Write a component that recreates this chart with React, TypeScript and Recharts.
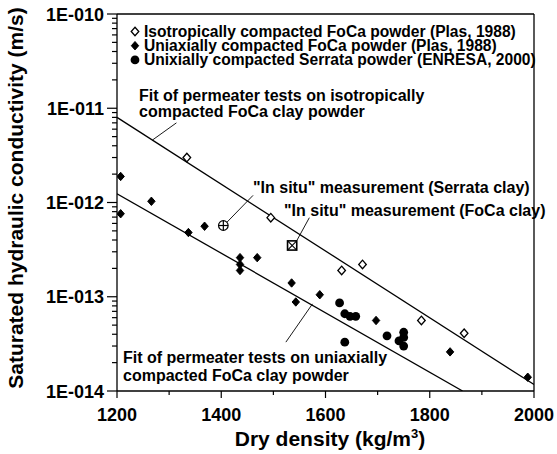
import { ComposedChart, XAxis, YAxis, Scatter, Line, ReferenceLine, Customized } from 'recharts'

// dry density (kg/m3) vs hydraulic conductivity (m/s)
const isoFoCa = [
  { d: 1334, k: 3.0e-12 },
  { d: 1495, k: 6.9e-13 },
  { d: 1631, k: 1.9e-13 },
  { d: 1671, k: 2.2e-13 },
  { d: 1784, k: 5.6e-14 },
  { d: 1866, k: 4.1e-14 },
]

const uniFoCa = [
  { d: 1207, k: 1.89e-12 },
  { d: 1207, k: 7.6e-13 },
  { d: 1266, k: 1.03e-12 },
  { d: 1337, k: 4.8e-13 },
  { d: 1368, k: 5.6e-13 },
  { d: 1436, k: 2.6e-13 },
  { d: 1436, k: 2.2e-13 },
  { d: 1436, k: 1.9e-13 },
  { d: 1469, k: 2.6e-13 },
  { d: 1535, k: 1.4e-13 },
  { d: 1543, k: 8.8e-14 },
  { d: 1589, k: 1.05e-13 },
  { d: 1697, k: 5.6e-14 },
  { d: 1839, k: 2.6e-14 },
  { d: 1988, k: 1.4e-14 },
]

const serrata = [
  { d: 1627, k: 8.6e-14 },
  { d: 1637, k: 6.6e-14 },
  { d: 1647, k: 6.2e-14 },
  { d: 1658, k: 6.2e-14 },
  { d: 1637, k: 3.3e-14 },
  { d: 1718, k: 3.85e-14 },
  { d: 1750, k: 4.2e-14 },
  { d: 1750, k: 3.7e-14 },
  { d: 1741, k: 3.4e-14 },
  { d: 1750, k: 3.0e-14 },
]

const inSituSerrata = [{ d: 1404, k: 5.7e-13 }]
const inSituFoCa = [{ d: 1536, k: 3.5e-13 }]

const isoFit = [
  { d: 1200, k: 8.0e-12 },
  { d: 2000, k: 1.17e-14 },
]
const uniFit = [
  { d: 1200, k: 1.24e-12 },
  { d: 1863, k: 1.0e-14 },
]

// leader lines from the notes to what they point at
const leaders = [
  [{ x: 1314, y: 7.0e-12 }, { x: 1268, y: 4.6e-12 }],
  [{ x: 1461, y: 1.19e-12 }, { x: 1410, y: 6.1e-13 }],
  [{ x: 1569, y: 6.9e-13 }, { x: 1545, y: 3.95e-13 }],
  [{ x: 1524, y: 3.3e-14 }, { x: 1575, y: 8.4e-14 }],
]

const xTicks = [1200, 1300, 1400, 1500, 1600, 1700, 1800, 1900, 2000]
const xLabelTicks = [1200, 1400, 1600, 1800, 2000]
const yDecades = [1e-14, 1e-13, 1e-12, 1e-11, 1e-10]
const yMinorSteps = [2, 3, 4, 5, 6, 7, 8, 9]
const yTicks = yDecades.flatMap((v, i) =>
  i < yDecades.length - 1 ? [v, ...yMinorSteps.map(m => m * v)] : [v]
)

const legendItems = [
  { name: 'Isotropically compacted FoCa powder (Plas, 1988)', kind: 'open' },
  { name: 'Uniaxially compacted FoCa powder (Plas, 1988)', kind: 'filled' },
  { name: 'Unixially compacted Serrata powder (ENRESA, 2000)', kind: 'circle' },
]

const FONT = '"Liberation Sans", Arial, Helvetica, sans-serif'
const INK = '#000'

const fmtExp = (v: number) => {
  const e = Math.round(Math.log10(v))
  return '1E-' + String(-e).padStart(3, '0')
}

function XTick(props: any) {
  const { x, y, payload } = props
  const major = xLabelTicks.includes(payload.value)
  return (
    <g>
      <line x1={x} x2={x} y1={y} y2={y + (major ? 7 : 4)} stroke={INK} strokeWidth={1.2} />
      {major && (
        <text x={x} y={y + 30} textAnchor="middle" fontFamily={FONT} fontWeight="bold" fontSize={18} fill={INK}>
          {payload.value}
        </text>
      )}
    </g>
  )
}

function YTick(props: any) {
  const { x, y, payload } = props
  const e = Math.log10(payload.value)
  const major = Math.abs(e - Math.round(e)) < 1e-6
  return (
    <g>
      <line x1={x - (major ? 10 : 5)} x2={x} y1={y} y2={y} stroke={INK} strokeWidth={1.2} />
      {major && (
        <text x={x - 13} y={y + 6.5} textAnchor="end" fontFamily={FONT} fontWeight="bold" fontSize={18} fill={INK}>
          {fmtExp(payload.value)}
        </text>
      )}
    </g>
  )
}

function diamondPoints(cx: number, cy: number, w: number, h: number) {
  return `${cx},${cy - h} ${cx + w},${cy} ${cx},${cy + h} ${cx - w},${cy}`
}

const OpenDiamond = (p: any) => (
  <polygon points={diamondPoints(p.cx, p.cy, 3.8, 4.3)} fill="#fff" stroke={INK} strokeWidth={1.3} />
)
const FilledDiamond = (p: any) => (
  <polygon points={diamondPoints(p.cx, p.cy, 3.7, 4.2)} fill={INK} stroke={INK} strokeWidth={1} />
)
const Dot = (p: any) => <circle cx={p.cx} cy={p.cy} r={4.4} fill={INK} />
const CirclePlus = (p: any) => (
  <g stroke={INK} strokeWidth={1.2} fill="none">
    <circle cx={p.cx} cy={p.cy} r={4.8} fill="#fff" />
    <line x1={p.cx - 4.8} x2={p.cx + 4.8} y1={p.cy} y2={p.cy} />
    <line x1={p.cx} x2={p.cx} y1={p.cy - 4.8} y2={p.cy + 4.8} />
  </g>
)
const SquareCross = (p: any) => (
  <g stroke={INK} fill="none">
    <rect x={p.cx - 4.6} y={p.cy - 4.6} width={9.2} height={9.2} fill="#fff" strokeWidth={1.6} />
    <line x1={p.cx - 4.6} x2={p.cx + 4.6} y1={p.cy - 4.6} y2={p.cy + 4.6} strokeWidth={1.1} />
    <line x1={p.cx - 4.6} x2={p.cx + 4.6} y1={p.cy + 4.6} y2={p.cy - 4.6} strokeWidth={1.1} />
  </g>
)

function legendMarker(kind: string, cx: number, cy: number) {
  if (kind === 'open') return <OpenDiamond cx={cx} cy={cy} />
  if (kind === 'filled') return <FilledDiamond cx={cx} cy={cy} />
  return <Dot cx={cx} cy={cy} />
}

function Notes() {
  const txt = { fontFamily: FONT, fontWeight: 'bold' as const, fontSize: 16, fill: INK }
  return (
    <g>
      {legendItems.map((it, i) => (
        <g key={it.name}>
          {legendMarker(it.kind, 135, 31.5 + i * 14.2)}
          <text x={144} y={37 + i * 14.2} {...txt} fontSize={15.6}>{it.name}</text>
        </g>
      ))}
      <text x={139} y={100.5} {...txt}>Fit of permeater tests on isotropically</text>
      <text x={139} y={116.5} {...txt}>compacted FoCa clay powder</text>
      <text x={253} y={192.5} {...txt}>"In situ" measurement (Serrata clay)</text>
      <text x={284} y={215.5} {...txt}>"In situ" measurement (FoCa clay)</text>
      <text x={123} y={363} {...txt}>Fit of permeater tests on uniaxially</text>
      <text x={123} y={380.5} {...txt}>compacted FoCa clay powder</text>
      <text transform="translate(23,198) rotate(-90)" textAnchor="middle" {...txt} fontSize={21}>
        Saturated hydraulic conductivity (m/s)
      </text>
      <text x={330} y={446} textAnchor="middle" {...txt} fontSize={21}>
        <tspan>Dry density (kg/m</tspan>
        <tspan dy={-8} fontSize={13}>3</tspan>
        <tspan dy={8}>)</tspan>
      </text>
    </g>
  )
}

export default function App() {
  return (
    <div style={{ position: 'absolute', left: 0, top: 0, width: 557, height: 454, background: '#fff' }}>
      <ComposedChart width={557} height={454} margin={{ top: 14, right: 23, left: 0, bottom: 0 }}>
        <XAxis
          dataKey="d"
          type="number"
          domain={[1200, 2000]}
          ticks={xTicks}
          interval={0}
          height={63}
          tickSize={0}
          tickMargin={0}
          tickLine={false}
          tick={<XTick />}
          axisLine={{ stroke: INK, strokeWidth: 1.3 }}
          allowDataOverflow
        />
        <YAxis
          dataKey="k"
          type="number"
          scale="log"
          domain={[1e-14, 1e-10]}
          ticks={yTicks}
          interval={0}
          width={117}
          tickSize={0}
          tickMargin={0}
          tickLine={false}
          tick={<YTick />}
          axisLine={{ stroke: INK, strokeWidth: 1.3 }}
          allowDataOverflow
        />
        <ReferenceLine y={1e-10} stroke={INK} strokeWidth={1.3} />
        <ReferenceLine x={2000} stroke={INK} strokeWidth={1.3} />
        {leaders.map((seg, i) => (
          <ReferenceLine key={i} segment={seg} stroke={INK} strokeWidth={0.9} />
        ))}
        <Line data={isoFit} dataKey="k" stroke={INK} strokeWidth={1.3} dot={false} isAnimationActive={false} />
        <Line data={uniFit} dataKey="k" stroke={INK} strokeWidth={1.3} dot={false} isAnimationActive={false} />
        <Scatter data={isoFoCa} shape={OpenDiamond} isAnimationActive={false} />
        <Scatter data={uniFoCa} shape={FilledDiamond} isAnimationActive={false} />
        <Scatter data={serrata} shape={Dot} isAnimationActive={false} />
        <Scatter data={inSituSerrata} shape={CirclePlus} isAnimationActive={false} />
        <Scatter data={inSituFoCa} shape={SquareCross} isAnimationActive={false} />
        <Customized component={<Notes />} />
      </ComposedChart>
    </div>
  )
}
